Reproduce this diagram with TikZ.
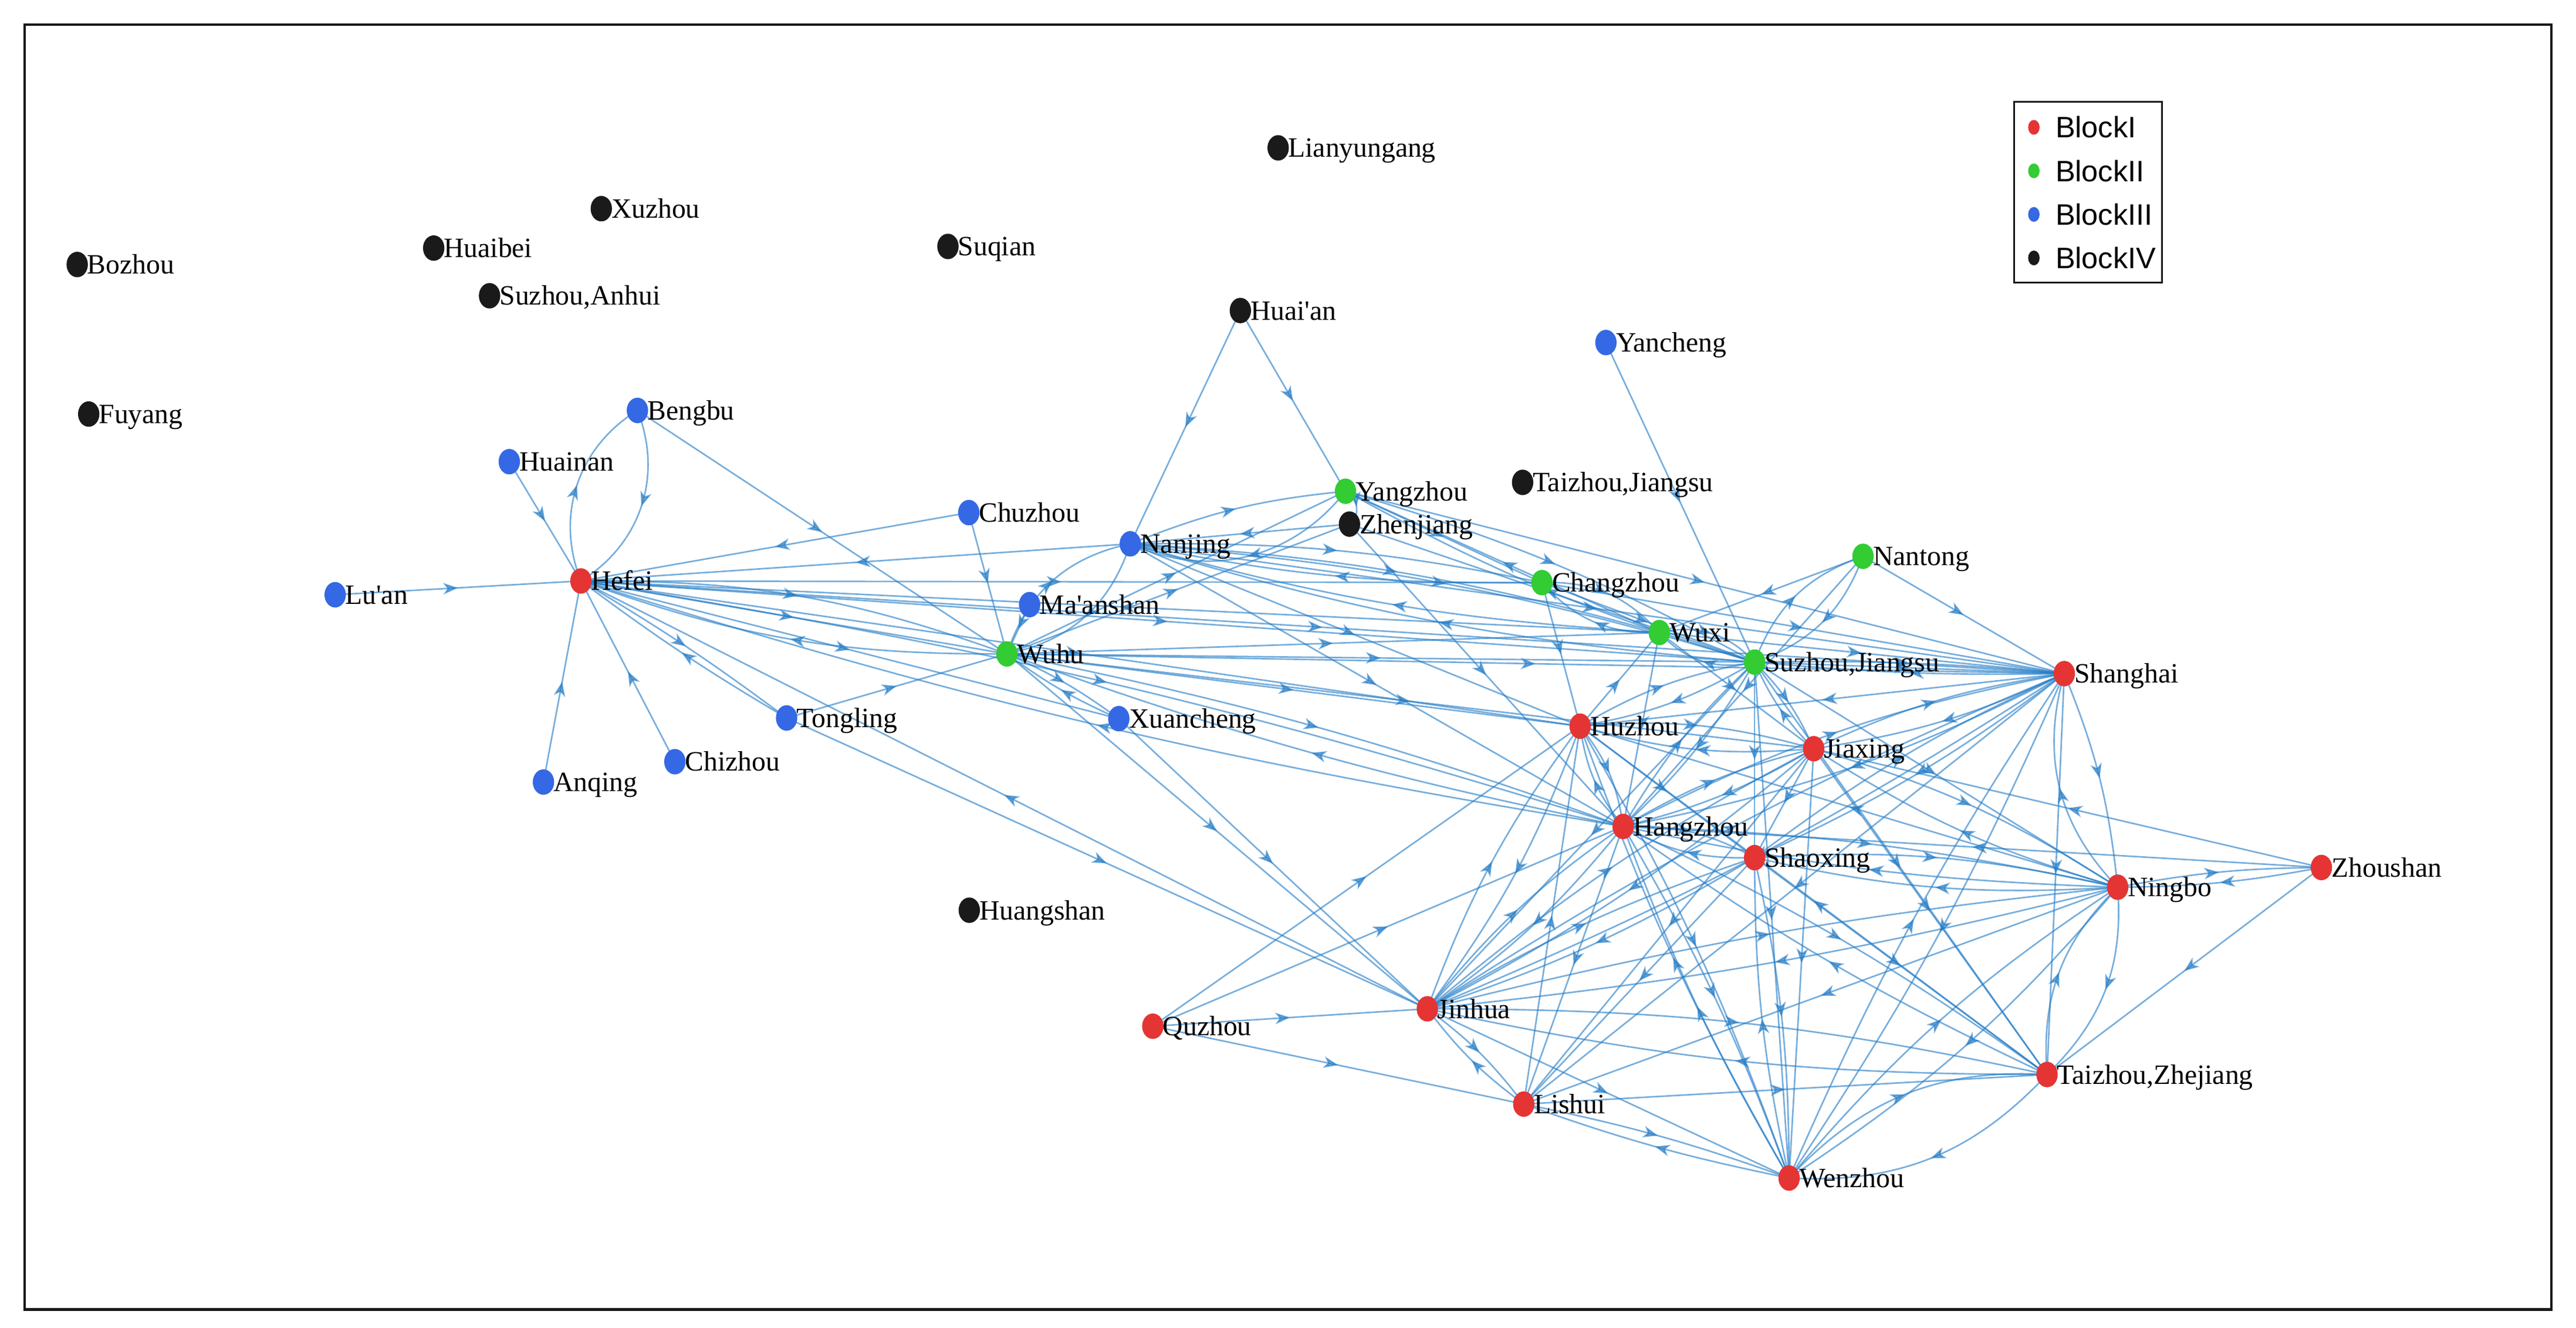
\documentclass[tikz,border=0pt]{standalone}
\usepackage{fontspec}
\setmainfont{Liberation Serif}
\newfontfamily\legfont{Liberation Sans}
\usetikzlibrary{shapes.geometric,decorations.markings,arrows.meta}
\pgfdeclarelayer{bg}\pgfsetlayers{bg,main}
\definecolor{cred}{RGB}{229,52,52}
\definecolor{cgreen}{RGB}{51,204,51}
\definecolor{cblue}{RGB}{53,104,228}
\definecolor{cblack}{RGB}{26,26,26}
\definecolor{ecol}{RGB}{36,124,198}
\tikzset{
 dot/.style={ellipse,minimum width=13pt,minimum height=15.5pt,inner sep=0pt,draw=none},
 ldot/.style={ellipse,minimum width=7pt,minimum height=9pt,inner sep=0pt,draw=none},
 lab/.style={font=\fontsize{17}{17}\selectfont,inner sep=0pt,anchor=base west},
 leglab/.style={font=\legfont\fontsize{18}{18}\selectfont,inner sep=0pt,anchor=base west},
 lnk/.style={draw=ecol,line width=0.95pt,opacity=0.62,postaction={decorate},
   decoration={markings,mark=at position 0.5 with {\arrow{Stealth[length=9pt,width=7pt,inset=2.6pt]}}}},
}
\newcommand\city[5]{\node[dot,fill=#4] (#1) at (#2,#3) {};\node[lab] (#1-l) at (#2+6,#3+5.7) {#5};}
\newcommand\edg[2]{\draw[lnk] (#1.center) -- (#2.center);}
\newcommand\edgb[3]{\draw[lnk] (#1.center) to[bend left=#3] (#2.center);}
\newcommand\edgp[3]{\edgb{#1}{#2}{#3}\edgb{#2}{#1}{#3}}
\begin{document}
\begin{tikzpicture}[x=1pt,y=-1pt]
\useasboundingbox (0,0) rectangle (1568,808);
\draw[line width=1.6pt,cblack] (15,15) rectangle (1553,797);
% cities
\city{bozhou}{47}{161}{cblack}{Bozhou}
\city{fuyang}{54}{252}{cblack}{Fuyang}
\city{huaibei}{264}{151}{cblack}{Huaibei}
\city{xuzhou}{366}{127}{cblack}{Xuzhou}
\city{szah}{298}{180}{cblack}{Suzhou,Anhui}
\city{suqian}{577}{150}{cblack}{Suqian}
\city{lyg}{778}{90}{cblack}{Lianyungang}
\city{huaian}{755}{189}{cblack}{Huai\textquotesingle an}
\city{yancheng}{977.5}{208.5}{cblue}{Yancheng}
\city{tzjs}{926.8}{293.6}{cblack}{Taizhou,Jiangsu}
\city{yangzhou}{819}{299}{cgreen}{Yangzhou}
\city{zhenjiang}{821.4}{319}{cblack}{Zhenjiang}
\city{nanjing}{688}{331}{cblue}{Nanjing}
\city{chuzhou}{589.7}{312}{cblue}{Chuzhou}
\city{bengbu}{388}{249.8}{cblue}{Bengbu}
\city{huainan}{310}{281}{cblue}{Huainan}
\city{hefei}{353.6}{353.6}{cred}{Hefei}
\city{luan}{204}{362}{cblue}{Lu\textquotesingle an}
\city{maanshan}{626.7}{368}{cblue}{Ma\textquotesingle anshan}
\city{wuhu}{612.9}{398}{cgreen}{Wuhu}
\city{tongling}{478.8}{437}{cblue}{Tongling}
\city{xuancheng}{681}{437.4}{cblue}{Xuancheng}
\city{anqing}{330.8}{476}{cblue}{Anqing}
\city{chizhou}{410.8}{463.6}{cblue}{Chizhou}
\city{huangshan}{590}{554}{cblack}{Huangshan}
\city{changzhou}{938.6}{354.6}{cgreen}{Changzhou}
\city{nantong}{1134}{338.6}{cgreen}{Nantong}
\city{wuxi}{1010}{385}{cgreen}{Wuxi}
\city{szjs}{1068}{403}{cgreen}{Suzhou,Jiangsu}
\city{shanghai}{1256.5}{410}{cred}{Shanghai}
\city{huzhou}{961.8}{442}{cred}{Huzhou}
\city{jiaxing}{1104}{455.7}{cred}{Jiaxing}
\city{hangzhou}{988}{503}{cred}{Hangzhou}
\city{shaoxing}{1068}{522}{cred}{Shaoxing}
\city{ningbo}{1289}{540}{cred}{Ningbo}
\city{zhoushan}{1413}{528}{cred}{Zhoushan}
\city{jinhua}{868.8}{614}{cred}{Jinhua}
\city{quzhou}{701.7}{624.6}{cred}{Quzhou}
\city{lishui}{927.5}{672}{cred}{Lishui}
\city{tzzj}{1246}{654}{cred}{Taizhou,Zhejiang}
\city{wenzhou}{1089}{717}{cred}{Wenzhou}
% legend
\draw[line width=1pt,cblack] (1226,62) rectangle (1316,172);
\node[ldot,fill=cred] (lg1) at (1238,77.5) {};
\node[ldot,fill=cgreen] (lg2) at (1238,104) {};
\node[ldot,fill=cblue] (lg3) at (1238,130.5) {};
\node[ldot,fill=cblack] (lg4) at (1238,157) {};
\node[leglab] (lt1) at (1251,83.9) {BlockI};
\node[leglab] (lt2) at (1251,110.4) {BlockII};
\node[leglab] (lt3) at (1251,136.9) {BlockIII};
\node[leglab] (lt4) at (1251,163.4) {BlockIV};
% edges
\begin{pgfonlayer}{bg}
\edg{huainan}{hefei}
\edgp{bengbu}{hefei}{40}
\edg{bengbu}{wuhu}
\edg{chuzhou}{hefei}
\edg{nanjing}{hefei}
\edg{luan}{hefei}
\edg{anqing}{hefei}
\edg{chizhou}{hefei}
\edgp{tongling}{hefei}{3}
\edg{hefei}{xuancheng}
\edgp{hefei}{wuhu}{10}
\edg{hefei}{wuhu}
\edg{tongling}{wuhu}
\edg{tongling}{jinhua}
\edg{maanshan}{wuhu}
\edg{chuzhou}{wuhu}
\edgp{wuhu}{xuancheng}{6}
\edg{xuancheng}{jinhua}
\edg{wuxi}{hefei}
\edg{hefei}{changzhou}
\edg{hefei}{szjs}
\edg{hefei}{shanghai}
\edgp{hefei}{hangzhou}{4}
\edg{hefei}{huzhou}
\edg{jinhua}{hefei}
\edg{huaian}{nanjing}
\edg{huaian}{yangzhou}
\edg{yancheng}{szjs}
\edgb{yangzhou}{nanjing}{38}
\edgb{nanjing}{yangzhou}{8}
\edg{zhenjiang}{nanjing}
\edgp{nanjing}{wuhu}{30}
\edg{wuhu}{yangzhou}
\edg{wuhu}{zhenjiang}
\edgp{nanjing}{changzhou}{6}
\edgp{nanjing}{wuxi}{6}
\edgp{nanjing}{szjs}{6}
\edg{nanjing}{shanghai}
\edg{nanjing}{hangzhou}
\edg{nanjing}{huzhou}
\edg{yangzhou}{shanghai}
\edgp{yangzhou}{szjs}{6}
\edg{wuxi}{yangzhou}
\edg{yangzhou}{changzhou}
\edgb{yangzhou}{zhenjiang}{70}
\edg{zhenjiang}{hangzhou}
\edg{zhenjiang}{szjs}
\edg{changzhou}{huzhou}
\edgp{changzhou}{wuxi}{25}
\edg{changzhou}{szjs}
\edg{changzhou}{shanghai}
\edgp{wuxi}{szjs}{30}
\edg{wuxi}{shanghai}
\edg{wuxi}{hangzhou}
\edg{nantong}{wuxi}
\edg{wuxi}{jiaxing}
\edg{wuhu}{szjs}
\edg{wuhu}{shanghai}
\edg{wuhu}{wuxi}
\edgp{wuhu}{hangzhou}{4}
\edg{wuhu}{jinhua}
\edg{wuhu}{huzhou}
\edg{wuhu}{jiaxing}
\edg{nantong}{shanghai}
\edgp{nantong}{szjs}{25}
\edg{nantong}{hangzhou}
\edgp{szjs}{shanghai}{3}
\edg{szjs}{shanghai}
\edgp{szjs}{huzhou}{10}
\edgp{szjs}{jiaxing}{10}
\edgp{szjs}{hangzhou}{8}
\edg{szjs}{shaoxing}
\edg{szjs}{ningbo}
\edg{szjs}{jinhua}
\edg{szjs}{tzzj}
\edg{szjs}{wenzhou}
\edg{huzhou}{wuxi}
\edgp{shanghai}{jiaxing}{8}
\edgp{shanghai}{hangzhou}{8}
\edgb{ningbo}{shanghai}{30}
\edgb{shanghai}{ningbo}{8}
\edgp{shanghai}{shaoxing}{6}
\edg{shanghai}{tzzj}
\edgp{shanghai}{wenzhou}{5}
\edg{shanghai}{huzhou}
\edgp{shanghai}{jinhua}{5}
\edg{shanghai}{lishui}
\edg{zhoushan}{jiaxing}
\edg{zhoushan}{hangzhou}
\edgp{hangzhou}{huzhou}{15}
\edgp{hangzhou}{jiaxing}{8}
\edgp{hangzhou}{shaoxing}{15}
\edgp{hangzhou}{ningbo}{5}
\edgp{hangzhou}{jinhua}{8}
\edg{quzhou}{hangzhou}
\edg{quzhou}{huzhou}
\edg{hangzhou}{lishui}
\edgp{hangzhou}{wenzhou}{5}
\edgp{hangzhou}{tzzj}{5}
\edgp{jiaxing}{huzhou}{10}
\edg{jiaxing}{shaoxing}
\edgp{jiaxing}{ningbo}{8}
\edgp{jiaxing}{jinhua}{6}
\edg{jiaxing}{tzzj}
\edg{jiaxing}{wenzhou}
\edg{jiaxing}{lishui}
\edgp{shaoxing}{ningbo}{8}
\edgp{shaoxing}{jinhua}{6}
\edg{shaoxing}{tzzj}
\edgp{shaoxing}{wenzhou}{6}
\edg{shaoxing}{lishui}
\edg{huzhou}{shaoxing}
\edgp{ningbo}{jinhua}{4}
\edgp{ningbo}{tzzj}{25}
\edgp{ningbo}{wenzhou}{8}
\edg{ningbo}{huzhou}
\edgp{ningbo}{zhoushan}{5}
\edg{ningbo}{lishui}
\edg{zhoushan}{tzzj}
\edg{quzhou}{jinhua}
\edgp{jinhua}{lishui}{8}
\edgp{jinhua}{tzzj}{6}
\edg{jinhua}{wenzhou}
\edgp{jinhua}{huzhou}{8}
\edgp{lishui}{wenzhou}{4}
\edg{lishui}{tzzj}
\edg{lishui}{huzhou}
\edg{quzhou}{lishui}
\edgp{tzzj}{wenzhou}{25}
\edg{tzzj}{huzhou}
\edgp{wenzhou}{huzhou}{5}
\end{pgfonlayer}
\end{tikzpicture}
\end{document}
